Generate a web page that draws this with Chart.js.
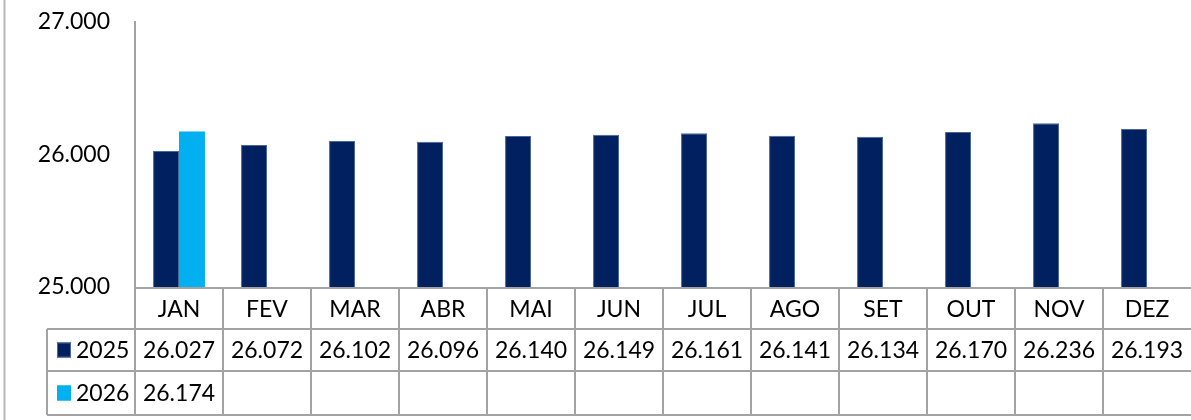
<!DOCTYPE html>
<html>
<head>
<meta charset="utf-8">
<script src="https://cdn.jsdelivr.net/npm/chart.js@4"></script>
<style>
html,body{margin:0;padding:0;background:#fff;}
#wrap{position:relative;width:1191px;height:420px;}
</style>
</head>
<body>
<div id="wrap"><canvas id="c" width="1191" height="420"></canvas></div>
<script>
const categories = ['JAN','FEV','MAR','ABR','MAI','JUN','JUL','AGO','SET','OUT','NOV','DEZ'];
const seriesNames = ['2025','2026'];
const values2025 = [26027, 26072, 26102, 26096, 26140, 26149, 26161, 26141, 26134, 26170, 26236, 26193];
const values2026 = [26174, null, null, null, null, null, null, null, null, null, null, null];
const yTicks = [25000, 26000, 27000];

const FONT = 'Lato, "Open Sans", sans-serif';
const FS = 23;
const LINE = '#a3a3a3';
const colors = ['#002060', '#00B0F0'];
const borders = ['#4a6796', '#00B0F0'];

function fmt(v){
  const s = Math.round(v).toString();
  return s.replace(/\B(?=(\d{3})+(?!\d))/g, '.');
}

const tablePlugin = {
  id: 'dataTable',
  afterDraw(chart){
    const ctx = chart.ctx;
    const x = chart.scales.x;
    const ca = chart.chartArea;
    const n = categories.length;
    const bounds = [];
    bounds.push(x.left);
    for(let i=1;i<n;i++){
      bounds.push((x.getPixelForTick(i-1)+x.getPixelForTick(i))/2);
    }
    bounds.push(x.right);
    const top = ca.bottom + 1;
    const r1 = top + 41;
    const r2 = r1 + 42;
    const r3 = r2 + 44;
    const legLeft = 47;
    ctx.save();
    ctx.strokeStyle = '#b8b8b8';
    ctx.lineWidth = 2;
    ctx.beginPath(); ctx.moveTo(4.5, 0); ctx.lineTo(4.5, 420); ctx.stroke();

    ctx.strokeStyle = LINE;
    ctx.lineWidth = 2;
    ctx.beginPath();
    ctx.moveTo(bounds[0], top); ctx.lineTo(x.right, top);
    ctx.moveTo(legLeft, r1); ctx.lineTo(x.right, r1);
    ctx.moveTo(legLeft, r2); ctx.lineTo(x.right, r2);
    ctx.moveTo(legLeft, r3); ctx.lineTo(x.right, r3);
    ctx.moveTo(legLeft, r1); ctx.lineTo(legLeft, r3);
    for(let i=0;i<n;i++){
      ctx.moveTo(bounds[i], top); ctx.lineTo(bounds[i], r3);
    }
    ctx.stroke();

    ctx.fillStyle = '#000';
    ctx.font = FS + 'px ' + FONT;
    ctx.textAlign = 'center';
    ctx.textBaseline = 'middle';
    for(let i=0;i<n;i++){
      const cx = (bounds[i]+bounds[i+1])/2;
      ctx.fillText(categories[i], cx, (top+r1)/2 + 1);
      if(values2025[i] != null) ctx.fillText(fmt(values2025[i]), cx, (r1+r2)/2 + 1);
      if(values2026[i] != null) ctx.fillText(fmt(values2026[i]), cx, (r2+r3)/2 + 1);
    }
    const rows = [[r1,r2],[r2,r3]];
    for(let s=0;s<2;s++){
      const cy = (rows[s][0]+rows[s][1])/2;
      ctx.fillStyle = colors[s];
      ctx.fillRect(57, cy-7.5, 14, 15);
      ctx.strokeStyle = borders[s];
      ctx.lineWidth = 1;
      ctx.strokeRect(57.5, cy-7, 13, 14);
      ctx.fillStyle = '#000';
      ctx.textAlign = 'left';
      ctx.fillText(seriesNames[s], 76, cy + 1);
    }
    ctx.restore();
  }
};

new Chart(document.getElementById('c'), {
  type: 'bar',
  data: {
    labels: categories,
    datasets: [
      { label: seriesNames[0], data: values2025, backgroundColor: colors[0], borderColor: borders[0], borderWidth: 1, categoryPercentage: 0.59, barPercentage: 1.0 },
      { label: seriesNames[1], data: values2026, backgroundColor: colors[1], borderColor: borders[1], borderWidth: 0, categoryPercentage: 0.59, barPercentage: 1.0 }
    ]
  },
  options: {
    responsive: false,
    animation: false,
    layout: { padding: { top: 22, bottom: 133, left: 0, right: 0 } },
    plugins: { legend: { display: false }, tooltip: { enabled: false } },
    scales: {
      x: { display: false, offset: true },
      y: {
        min: yTicks[0], max: yTicks[yTicks.length-1],
        afterFit(s){ s.width = 135; s.paddingTop = 0; s.paddingBottom = 0; },
        afterBuildTicks(s){ s.ticks = yTicks.map(v => ({value: v})); },
        grid: { display: false, drawTicks: false },
        border: { display: true, color: LINE, width: 2 },
        ticks: { padding: 25, color: '#000', font: { family: FONT, size: FS }, callback: v => fmt(v) }
      }
    }
  },
  plugins: [tablePlugin]
});
</script>
</body>
</html>
